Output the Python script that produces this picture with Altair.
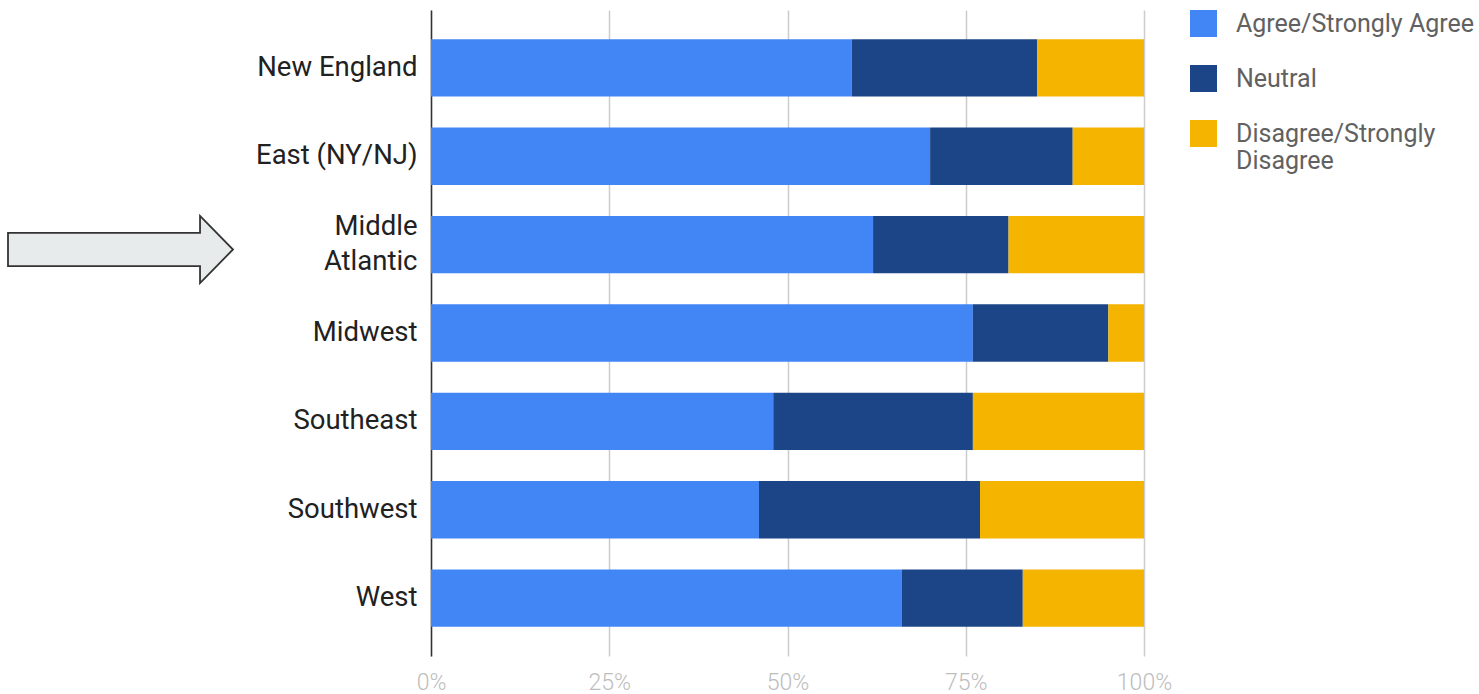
import altair as alt
import pandas as pd

regions = ["New England", "East (NY/NJ)", "Middle Atlantic", "Midwest",
           "Southeast", "Southwest", "West"]
categories = ["Agree/Strongly Agree", "Neutral", "Disagree/Strongly Disagree"]
agree = [59, 70, 62, 76, 48, 46, 66]
neutral = [26, 20, 19, 19, 28, 31, 17]
disagree = [15, 10, 19, 5, 24, 23, 17]
colors = ["#4285f4", "#1c4587", "#f4b400"]
x_ticks = [0, 0.25, 0.5, 0.75, 1]

rows = []
for series_idx, (cat, vals) in enumerate(zip(categories, [agree, neutral, disagree])):
    for reg, v in zip(regions, vals):
        rows.append({"region": reg, "category": cat, "value": v, "order": series_idx})
df = pd.DataFrame(rows)

bars = alt.Chart(df).mark_bar().encode(
    x=alt.X(
        "value:Q",
        stack="normalize",
        scale=alt.Scale(domain=[0, 1], nice=False),
        axis=alt.Axis(
            values=x_ticks, format="%", title=None, grid=True, gridColor="#cccccc",
            gridWidth=1.5, domain=False, ticks=False, labelColor="#bdbdbd",
            labelFontSize=23, labelFontWeight=300, labelPadding=15,
            labelFlush=False,
        ),
    ),
    y=alt.Y(
        "region:N",
        sort=regions,
        scale=alt.Scale(paddingInner=0.35, paddingOuter=0.33),
        axis=alt.Axis(
            title=None, ticks=False, domainColor="#333333", domainWidth=1.5,
            labelFontSize=27.5, labelColor="#212121", labelPadding=14,
            labelLineHeight=35, labelLimit=300,
            labelOffset={"condition": {"test": "datum.value == 'Middle Atlantic'",
                                       "value": -17.5}, "value": 0},
            labelExpr="datum.value == 'Middle Atlantic' ? ['Middle', 'Atlantic'] : datum.value",
        ),
    ),
    color=alt.Color(
        "category:N",
        sort=categories,
        scale=alt.Scale(domain=categories, range=colors),
        legend=alt.Legend(
            orient="none", legendX=759, legendY=0, title=None, padding=0,
            symbolType="square", symbolSize=729, symbolStrokeWidth=0,
            labelFontSize=25, labelColor="#616161", labelLimit=300,
            labelOffset=19, rowPadding=28,
            labelExpr="datum.label == 'Disagree/Strongly Disagree' ? ['Disagree/Strongly', 'Disagree'] : datum.label",
        ),
    ),
    order=alt.Order("order:Q"),
)

arrow_path = ("M-1,-0.147 L0.707,-0.147 L0.707,-0.298 L1,0 L0.707,0.298 "
              "L0.707,0.147 L-1,0.147 Z")
arrow = alt.Chart(pd.DataFrame({"a": [0]})).mark_point(
    shape=arrow_path, size=50625, filled=True, color="#e8ebeb",
    stroke="#333333", strokeWidth=1.8, opacity=1,
).encode(x=alt.value(-310.5), y=alt.value(239.5))

chart = alt.layer(bars, arrow).properties(
    width=713, height=646,
    padding={"left": 431, "top": 10, "right": 335, "bottom": 38},
    autosize="none",
).configure(font="Roboto").configure_view(stroke=None)

chart.save("out.html", embed_options={"renderer": "svg", "actions": False})
